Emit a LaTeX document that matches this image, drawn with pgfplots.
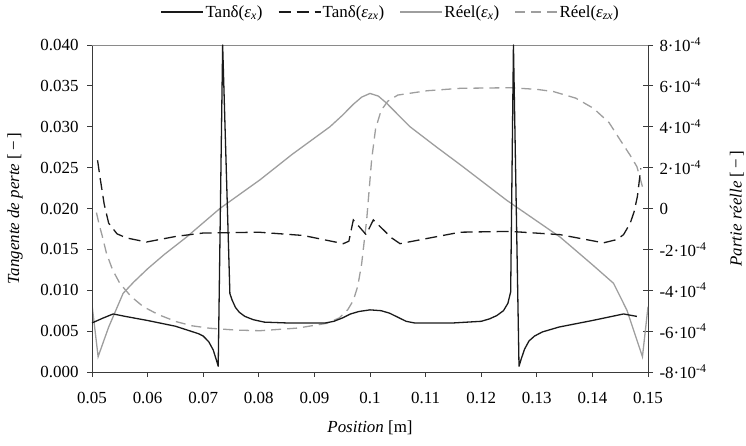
\documentclass[border=0pt]{standalone}
\usepackage{fontspec}
\setmainfont{Liberation Serif}
\usepackage{pgfplots}
\usepackage{pgfplotstable}
\pgfplotsset{compat=1.18}

\definecolor{lossblack}{HTML}{1A1A1A}
\definecolor{realgrey}{HTML}{9E9E9E}
\definecolor{axisdark}{HTML}{3A3A3A}
\definecolor{topgrey}{HTML}{8A8A8A}

% loss tangent along the position (left axis)
\pgfplotstableread{
x y
0.0500 0.0060
0.0520 0.0066
0.0538 0.0071
0.0560 0.0068
0.0600 0.0063
0.0650 0.0056
0.0691 0.0047
0.0700 0.0044
0.0710 0.0037
0.0718 0.0027
0.0724 0.0014
0.0727 0.0007
0.0735 0.0400
0.0748 0.0096
0.0752 0.0088
0.0758 0.0079
0.0765 0.0073
0.0775 0.0068
0.0790 0.0064
0.0810 0.0061
0.0850 0.0060
0.0920 0.0060
0.0935 0.0062
0.0950 0.0066
0.0965 0.0071
0.0980 0.0074
0.1000 0.0076
0.1020 0.0075
0.1035 0.0072
0.1050 0.0067
0.1065 0.0062
0.1080 0.0060
0.1150 0.0060
0.1200 0.0062
0.1215 0.0065
0.1228 0.0069
0.1240 0.0075
0.1248 0.0084
0.1253 0.0098
0.1258 0.0400
0.1268 0.0007
0.1272 0.0016
0.1278 0.0028
0.1286 0.0038
0.1296 0.0044
0.1310 0.0049
0.1340 0.0055
0.1400 0.0063
0.1456 0.0071
0.1480 0.0068
}\tanx

\pgfplotstableread{
x y
0.0510 0.0259
0.0514 0.0240
0.0522 0.0205
0.0530 0.0182
0.0545 0.0169
0.0562 0.0164
0.0598 0.0159
0.0652 0.0166
0.0700 0.0170
0.0800 0.0171
0.0880 0.0167
0.0952 0.0157
0.0962 0.0160
0.0970 0.0186
0.0993 0.0168
0.1006 0.0186
0.1039 0.0164
0.1054 0.0157
0.1100 0.0163
0.1162 0.0171
0.1252 0.0172
0.1342 0.0168
0.1420 0.0158
0.1444 0.0162
0.1456 0.0168
0.1468 0.0182
0.1475 0.0196
0.1481 0.0215
0.1487 0.0249
}\tanzx

% real part, in units of 1e-4 (right axis)
\pgfplotstableread{
x y
0.0500 -4.70
0.0511 -7.25
0.0530 -5.80
0.0556 -4.15
0.0575 -3.60
0.0600 -2.95
0.0630 -2.25
0.0670 -1.40
0.0730 0.00
0.0802 1.40
0.0860 2.65
0.0928 4.00
0.0950 4.55
0.0970 5.10
0.0985 5.45
0.1000 5.63
0.1015 5.50
0.1030 5.15
0.1050 4.60
0.1072 4.00
0.1120 3.00
0.1162 2.15
0.1246 0.40
0.1342 -1.40
0.1400 -2.75
0.1438 -3.66
0.1462 -4.97
0.1490 -7.25
0.1500 -4.80
}\reelx

\pgfplotstableread{
x y
0.0508 -0.20
0.0513 -0.80
0.0518 -1.30
0.0526 -2.19
0.0537 -3.00
0.0550 -3.66
0.0570 -4.30
0.0592 -4.80
0.0620 -5.20
0.0652 -5.54
0.0680 -5.74
0.0712 -5.86
0.0760 -5.95
0.0802 -5.98
0.0870 -5.85
0.0922 -5.62
0.0945 -5.35
0.0960 -4.95
0.0970 -4.50
0.0978 -3.80
0.0985 -2.70
0.0994 -0.56
0.1003 2.40
0.1010 3.90
0.1020 4.80
0.1032 5.25
0.1050 5.55
0.1102 5.76
0.1162 5.88
0.1252 5.91
0.1300 5.83
0.1330 5.72
0.1370 5.40
0.1402 4.90
0.1430 4.20
0.1450 3.35
0.1468 2.60
0.1480 2.05
0.1490 1.07
}\reelzx

\pgfplotsset{
  common/.style={
    at={(0,0)}, anchor=south west,
    scale only axis, width=556bp, height=327bp,
    xmin=0.05, xmax=0.15,
    axis line style={axisdark, line width=0.9bp},
    tick style={axisdark, line width=0.8bp},
  },
}

\begin{document}
\begin{tikzpicture}[font=\fontsize{17}{20}\selectfont]
\useasboundingbox (-92bp,-74bp) rectangle (654bp,372bp);

% right axis: real parts, carries the legend
\begin{axis}[
  common,
  ymin=-8, ymax=8,
  axis x line=none, axis y line*=right,
  ytick={-8,-6,-4,-2,0,2,4,6,8},
  yticklabels={-8·10\textsuperscript{-4},-6·10\textsuperscript{-4},-4·10\textsuperscript{-4},-2·10\textsuperscript{-4},0,2·10\textsuperscript{-4},4·10\textsuperscript{-4},6·10\textsuperscript{-4},8·10\textsuperscript{-4}},
  tick align=center, major tick length=10bp,
  yticklabel style={xshift=3bp},
  ylabel={\textit{Partie réelle} [\,−\,]},
  every axis y label/.style={at={(axis description cs:1.16,0.5)}, rotate=90, anchor=center},
  legend image code/.code={\draw[#1] (0bp,0bp) -- (42bp,0bp);},
  legend style={draw=none, fill=none, at={(axis description cs:0.537,1.101)}, anchor=center,
    legend columns=4, nodes={inner xsep=1.5bp, inner ysep=0bp},
    /tikz/every even column/.append style={column sep=14bp}},
]
\addlegendimage{lossblack, line width=1.3bp}
\addlegendentry{Tanδ(\textit{ε}\textsubscript{\textit{x}})}
\addlegendimage{lossblack, line width=1.3bp, dash pattern=on 12bp off 6bp}
\addlegendentry{Tanδ(\textit{ε}\textsubscript{\textit{zx}})}
\addplot[realgrey, line width=1.3bp] table {\reelx};
\addlegendentry{Réel(\textit{ε}\textsubscript{\textit{x}})}
\addplot[realgrey, line width=1.3bp, dash pattern=on 10bp off 6bp] table {\reelzx};
\addlegendentry{Réel(\textit{ε}\textsubscript{\textit{zx}})}
\end{axis}

% left axis: loss tangents
\begin{axis}[
  common,
  ymin=0, ymax=0.04,
  scaled y ticks=false, scaled x ticks=false,
  axis x line*=bottom, axis y line*=left,
  xtick={0.05,0.06,0.07,0.08,0.09,0.1,0.11,0.12,0.13,0.14,0.15},
  xticklabels={0.05,0.06,0.07,0.08,0.09,0.1,0.11,0.12,0.13,0.14,0.15},
  ytick={0,0.005,0.01,0.015,0.02,0.025,0.03,0.035,0.04},
  yticklabels={0.000,0.005,0.010,0.015,0.020,0.025,0.030,0.035,0.040},
  tick align=outside, major tick length=5bp,
  xticklabel style={yshift=-12bp},
  yticklabel style={xshift=-5bp},
  xlabel={\textit{Position} [m]},
  ylabel={\textit{Tangente de perte} [\,−\,]},
  every axis x label/.style={at={(axis description cs:0.5,-0.172)}, anchor=center},
  every axis y label/.style={at={(axis description cs:-0.1385,0.5)}, rotate=90, anchor=center},
]
\draw[topgrey, line width=0.9bp] (axis description cs:0,1) ++(-6bp,0) -- (axis description cs:1,1);
\addplot[lossblack, line width=1.3bp, line join=round] table {\tanx};
\addplot[lossblack, line width=1.3bp, dash pattern=on 12bp off 6bp] table {\tanzx};
\end{axis}
\end{tikzpicture}
\end{document}
